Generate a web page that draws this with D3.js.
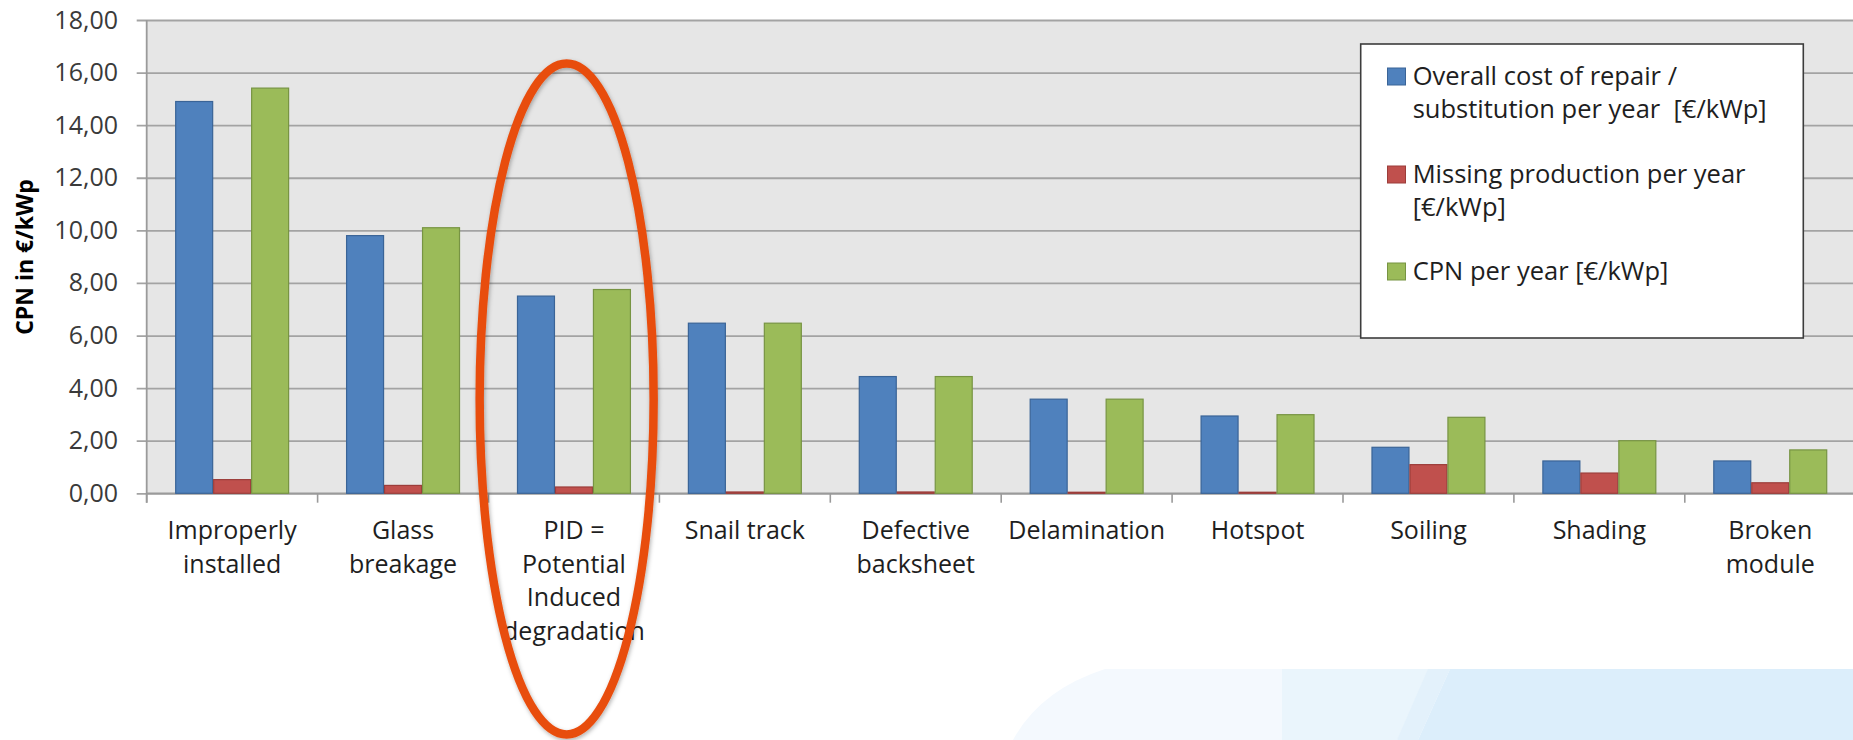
<!DOCTYPE html>
<html>
<head>
<meta charset="utf-8">
<script src="https://cdn.jsdelivr.net/npm/d3@7"></script>
<style>
  html, body { margin: 0; padding: 0; background: #ffffff; overflow: hidden; }
  svg { display: block; }
  text { font-family: "Open Sans", "Lato", sans-serif; }
</style>
</head>
<body>
<svg id="chart" width="1853" height="740"></svg>
<script>
// ---------------- data ----------------
const categories = ["Improperly installed", "Glass breakage", "PID = Potential Induced degradation",
  "Snail track", "Defective backsheet", "Delamination", "Hotspot", "Soiling", "Shading", "Broken module"];
const categoryLines = [["Improperly", "installed"], ["Glass", "breakage"], ["PID =", "Potential", "Induced", "degradation"],
  ["Snail track"], ["Defective", "backsheet"], ["Delamination"], ["Hotspot"], ["Soiling"], ["Shading"], ["Broken", "module"]];
const repairCost = [14.90, 9.80, 7.50, 6.47, 4.44, 3.58, 2.94, 1.75, 1.23, 1.23];
const missingProduction = [0.52, 0.30, 0.24, 0.05, 0.05, 0.04, 0.04, 1.09, 0.77, 0.40];
const cpnPerYear = [15.41, 10.10, 7.75, 6.47, 4.44, 3.58, 2.99, 2.89, 2.00, 1.65];
const seriesNames = ["Overall cost of repair / substitution per year  [€/kWp]", "Missing production per year [€/kWp]", "CPN per year [€/kWp]"];
const legendLines = [["Overall cost of repair /", "substitution per year  [€/kWp]"], ["Missing production per year", "[€/kWp]"], ["CPN per year [€/kWp]"]];
const seriesFill = ["#4f81bd", "#c0504d", "#9bbb59"];
const seriesStroke = ["#3a6497", "#9c3d3a", "#779443"];
const yTicks = [0, 2, 4, 6, 8, 10, 12, 14, 16, 18];
const yTitle = "CPN in €/kWp";
const highlighted = "PID = Potential Induced degradation";

const seriesValues = [repairCost, missingProduction, cpnPerYear];

// ---------------- layout ----------------
const W = 1853, H = 740;
const plotLeft = 146.7, plotRight = 1855.7, plotTop = 20, plotBottom = 493.3;

const svg = d3.select("#chart");

// background decoration (slide swoosh)
const deco = svg.append("g");
deco.append("path").attr("d", "M1013,740 Q1040,690 1105,669 L1282,669 L1282,740 Z").attr("fill", "#f4f9fe");
deco.append("path").attr("d", "M1282,669 L1450,669 L1397,740 L1282,740 Z").attr("fill", "#eaf5fc");
deco.append("path").attr("d", "M1428,669 L1450,669 L1418,740 L1397,740 Z").attr("fill", "#e3f1fb");
deco.append("path").attr("d", "M1450,669 L1853,669 L1853,740 L1418,740 Z").attr("fill", "#dceefb");

const x0 = d3.scaleBand().domain(categories).range([plotLeft, plotRight]).padding(0);
const bw = x0.bandwidth();
const x1 = d3.scaleBand().domain(d3.range(seriesValues.length)).range([bw * 0.75 / 4.5, bw * 3.75 / 4.5]).padding(0);
const y = d3.scaleLinear().domain([0, 18]).range([plotBottom, plotTop]);
const fmt = d3.formatLocale({ decimal: ",", thousands: ".", grouping: [3], currency: ["", "€"] }).format(".2f");

// plot background
svg.append("rect").attr("x", plotLeft).attr("y", plotTop)
  .attr("width", W - plotLeft).attr("height", plotBottom - plotTop).attr("fill", "#e6e6e6");

// gridlines (with outer tick marks)
const grid = svg.append("g").attr("transform", `translate(${plotLeft},0)`)
  .call(d3.axisLeft(y).tickValues(yTicks).tickSizeInner(-(W - plotLeft)).tickSizeOuter(0).tickFormat(""));
grid.select(".domain").remove();
grid.selectAll(".tick line").attr("stroke", "#a3a3a3").attr("stroke-width", 1.8).attr("x1", -10);

// y labels
const yAx = svg.append("g").attr("transform", `translate(${plotLeft},0)`)
  .call(d3.axisLeft(y).tickValues(yTicks).tickSize(0).tickPadding(28.7).tickFormat(fmt));
yAx.select(".domain").remove();
yAx.selectAll(".tick text").attr("font-size", 25).attr("fill", "#3a3a3a")
  .attr("font-family", "'Open Sans', sans-serif");

// y axis line
svg.append("line").attr("x1", plotLeft).attr("x2", plotLeft).attr("y1", plotTop).attr("y2", plotBottom + 9.4)
  .attr("stroke", "#9a9a9a").attr("stroke-width", 1.8);

// x axis line
svg.append("line").attr("x1", plotLeft).attr("x2", W).attr("y1", plotBottom).attr("y2", plotBottom)
  .attr("stroke", "#9a9a9a").attr("stroke-width", 1.8);
// category boundary ticks
const boundaries = categories.map(c => x0(c)).concat([x0(categories[categories.length - 1]) + bw]);
svg.append("g").selectAll("line").data(boundaries).join("line")
  .attr("x1", d => d).attr("x2", d => d).attr("y1", plotBottom).attr("y2", plotBottom + 9.4)
  .attr("stroke", "#9a9a9a").attr("stroke-width", 1.6);

// bars
const groups = svg.append("g").selectAll("g").data(categories).join("g")
  .attr("transform", c => `translate(${x0(c)},0)`);
groups.selectAll("rect").data((c, i) => seriesValues.map((vals, s) => ({ s, v: vals[i] }))).join("rect")
  .attr("x", d => x1(d.s) + 0.5)
  .attr("width", x1.bandwidth() - 1)
  .attr("y", d => y(d.v))
  .attr("height", d => y(0) - y(d.v))
  .attr("fill", d => seriesFill[d.s])
  .attr("stroke", d => seriesStroke[d.s])
  .attr("stroke-width", 1.2);

// category labels
const catLabels = svg.append("g").selectAll("text").data(categories).join("text")
  .attr("text-anchor", "middle")
  .attr("font-size", 25)
  .attr("fill", "#1e1e1e")
  .attr("transform", c => `translate(${x0(c) + bw / 2},539)`);
catLabels.selectAll("tspan").data((c, i) => categoryLines[i]).join("tspan")
  .attr("x", 0).attr("y", (d, i) => i * 33.5).text(d => d);

// y title
svg.append("text").attr("transform", "translate(33,257) rotate(-90)")
  .attr("text-anchor", "middle").attr("font-size", 23).attr("font-weight", "bold")
  .attr("fill", "#000").text(yTitle);

// legend
const lg = svg.append("g");
lg.append("rect").attr("x", 1360.7).attr("y", 44).attr("width", 442.6).attr("height", 294)
  .attr("fill", "#ffffff").attr("stroke", "#3c3c3c").attr("stroke-width", 1.6);
const entryBase = [85, 183, 280];
seriesNames.forEach((name, s) => {
  lg.append("rect").attr("x", 1387.5).attr("y", entryBase[s] - 17).attr("width", 18).attr("height", 17)
    .attr("fill", seriesFill[s]).attr("stroke", seriesStroke[s]).attr("stroke-width", 1);
  const t = lg.append("text").attr("x", 1412.7).attr("y", entryBase[s]).attr("font-size", 25.5)
    .attr("fill", "#1e1e1e").attr("xml:space", "preserve").attr("style", "white-space:pre");
  t.selectAll("tspan").data(legendLines[s]).join("tspan")
    .attr("x", 1412.7).attr("y", (d, i) => entryBase[s] + i * 33).text(d => d);
});

// highlight ellipse around PID category
const defs = svg.append("defs");
const f = defs.append("filter").attr("id", "sh").attr("x", "-20%").attr("y", "-20%").attr("width", "140%").attr("height", "140%");
f.append("feDropShadow").attr("dx", 1).attr("dy", 2).attr("stdDeviation", 2).attr("flood-color", "#000").attr("flood-opacity", 0.3);
svg.append("ellipse")
  .attr("cx", x0(highlighted) + bw / 2 - 7.3)
  .attr("cy", 399)
  .attr("rx", 87)
  .attr("ry", 335.5)
  .attr("fill", "none")
  .attr("stroke", "#e84e0f")
  .attr("stroke-width", 8.5)
  .attr("filter", "url(#sh)");
</script>
</body>
</html>
